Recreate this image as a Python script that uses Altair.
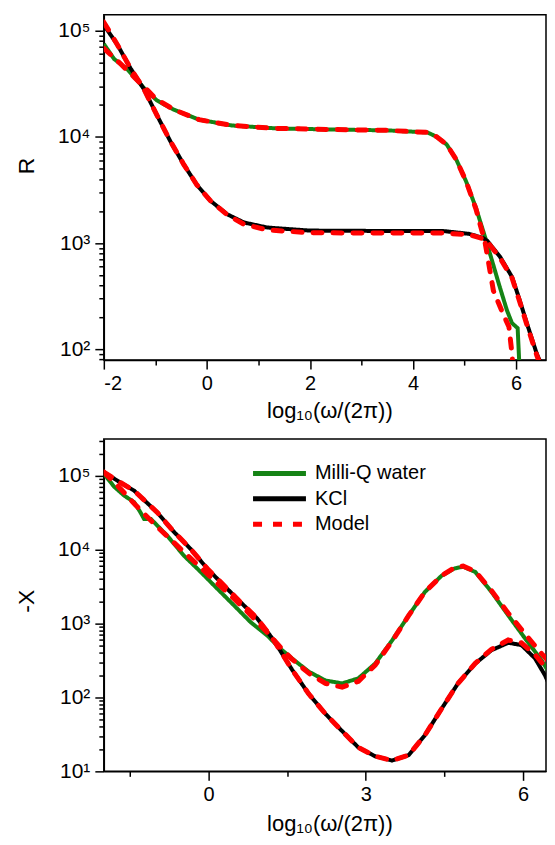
import altair as alt
import pandas as pd

FONT = "Liberation Sans"

# ---------------- top panel: R ----------------
r_water_x = [-2.0, -1.8, -1.54, -1.2, -0.97, -0.64, -0.15, 0.48, 1.35, 2.5, 3.5, 4.28, 4.46,
             4.65, 4.84, 5.03, 5.22, 5.42, 5.66, 5.82, 5.92, 6.03, 6.07]
r_water_y = [7.5e4, 5.4e4, 4.3e4, 2.8e4, 2.2e4, 1.8e4, 1.45e4, 1.28e4, 1.2e4, 1.17e4, 1.15e4, 1.1e4, 1.0e4,
             8.5e3, 6.1e3, 3.8e3, 2.15e3, 1.05e3, 420, 234, 176, 158, 60]

r_water_model_x = [-2.0, -1.7, -1.4, -1.2, -1.0, -0.64, -0.15, 0.48, 1.35, 2.5, 3.5, 4.28, 4.46,
                   4.65, 4.84, 5.03, 5.22, 5.4, 5.56, 5.73, 5.86, 5.92, 5.96]
r_water_model_y = [6.8e4, 5.0e4, 3.6e4, 2.9e4, 2.3e4, 1.8e4, 1.45e4, 1.28e4, 1.2e4, 1.17e4, 1.15e4, 1.1e4, 1.0e4,
                   8.5e3, 6.1e3, 3.8e3, 2.1e3, 1.0e3, 355, 225, 163, 91, 50]

r_kcl_x = [-2.0, -1.74, -1.48, -1.22, -0.97, -0.71, -0.45, -0.19, 0.07, 0.39, 0.72, 1.17, 1.99,
           3.28, 4.57, 5.09, 5.35, 5.44, 5.69, 5.92, 6.05, 6.21, 6.40, 6.5]
r_kcl_y = [1.13e5, 7.4e4, 4.4e4, 2.8e4, 1.6e4, 9.1e3, 5.5e3, 3.5e3, 2.5e3, 1.87e3, 1.56e3, 1.4e3, 1.31e3,
           1.3e3, 1.3e3, 1.22e3, 1.12e3, 1.05e3, 740, 480, 310, 175, 91, 70]
r_kcl_model_y = [1.2e5, 7.4e4, 4.4e4, 2.8e4, 1.6e4, 9.1e3, 5.5e3, 3.5e3, 2.5e3, 1.85e3, 1.5e3, 1.33e3, 1.25e3,
                 1.24e3, 1.24e3, 1.2e3, 1.1e3, 1.03e3, 720, 470, 300, 170, 88, 65]

# ---------------- bottom panel: -X ----------------
x_water_x = [-2.0, -1.8, -1.61, -1.42, -1.30, -1.23, -1.10, -0.79, -0.47, -0.15, 0.17, 0.48, 0.8, 1.12,
             1.37, 1.59, 1.91, 2.23, 2.55, 2.86, 3.18, 3.5, 3.82, 4.13, 4.45, 4.7, 4.86, 5.09, 5.4,
             5.72, 6.04, 6.36, 6.63]
x_water_y = [1.07e5, 7.1e4, 5.4e4, 4.4e4, 3.2e4, 2.6e4, 2.6e4, 1.55e4, 8.3e3, 5.0e3, 2.95e3, 1.78e3, 1.05e3, 690,
             457, 339, 224, 170, 155, 182, 288, 589, 1.29e3, 2.69e3, 4.47e3, 5.6e3, 5.9e3, 5.0e3, 2.69e3,
             1.29e3, 631, 316, 151]

x_water_model_x = [-2.0, -1.74, -1.39, -1.01, -0.53, 0.10, 0.48, 0.74, 1.12, 1.37, 1.59, 1.91, 2.23, 2.55,
                   2.86, 3.18, 3.5, 3.82, 4.13, 4.45, 4.7, 4.86, 5.09, 5.4, 5.72, 6.04, 6.36, 6.63]
x_water_model_y = [1.12e5, 7.4e4, 4.0e4, 2.14e4, 1.02e4, 3.9e3, 2.19e3, 1.45e3, 760, 479, 331, 214, 155, 138,
                   166, 275, 575, 1.29e3, 2.69e3, 4.47e3, 5.75e3, 6.0e3, 5.1e3, 2.8e3, 1.38e3, 724, 389, 240]

x_kcl_x = [-2.0, -1.68, -1.42, -1.23, -0.98, -0.66, -0.34, -0.02, 0.29, 0.61, 0.93, 1.24, 1.59, 1.91,
           2.23, 2.55, 2.86, 3.18, 3.5, 3.82, 4.13, 4.45, 4.76, 5.09, 5.4, 5.72, 5.97, 6.23, 6.42, 6.63]
x_kcl_y = [1.12e5, 8.1e4, 6.3e4, 4.7e4, 3.2e4, 1.74e4, 1.02e4, 5.5e3, 3.3e3, 1.95e3, 1.17e3, 600, 240, 112,
           60, 35, 21, 16, 14, 16.6, 31, 71, 155, 288, 437, 550, 513, 339, 200, 93]
x_kcl_model_y = [1.12e5, 8.1e4, 6.3e4, 4.7e4, 3.2e4, 1.74e4, 1.02e4, 5.5e3, 3.3e3, 1.95e3, 1.17e3, 600, 240, 112,
                 60, 35, 21, 16, 14, 16.6, 31, 71, 155, 290, 450, 600, 550, 380, 263, 178]

series_names = ["Milli-Q water", "KCl", "Model"]
series_colors = ["#158315", "#000000", "#ff0000"]
series_dash = [[1, 0], [1, 0], [9, 11]]

top_x_ticks = [-2, -1, 0, 1, 2, 3, 4, 5, 6]
bottom_x_ticks = [-1.5, 0, 1.5, 3, 4.5, 6]
top_y_ticks = [m * 10 ** k for k in range(1, 6) for m in range(1, 10) if 79 <= m * 10 ** k <= 1.41e5]
bottom_y_ticks = [m * 10 ** k for k in range(1, 6) for m in range(1, 10) if 10 <= m * 10 ** k <= 3.1e5]


def curve(xs, ys, series, cid):
    return pd.DataFrame({"f": xs, "v": ys, "series": series, "curve": cid})


top_meas = pd.concat([curve(r_water_x, r_water_y, "Milli-Q water", "w"),
                      curve(r_kcl_x, r_kcl_y, "KCl", "k")])
top_model = pd.concat([curve(r_water_model_x, r_water_model_y, "Model", "mw"),
                       curve(r_kcl_x, r_kcl_model_y, "Model", "mk")])
bot_meas = pd.concat([curve(x_water_x, x_water_y, "Milli-Q water", "w"),
                      curve(x_kcl_x, x_kcl_y, "KCl", "k")])
bot_model = pd.concat([curve(x_water_model_x, x_water_model_y, "Model", "mw"),
                       curve(x_kcl_x, x_kcl_model_y, "Model", "mk")])

LOGTEST = "abs(log(datum.value)/LN10 - round(log(datum.value)/LN10)) < 0.001"
SUPS = "['\u2070','\u00b9','\u00b2','\u00b3','\u2074','\u2075','\u2076']"

PW = 443


def panel(meas, model, xdom, ydom, xticks, xtest, yticks, ytitle, ytitle_y, xtitle_y, height, legend):
    x_axis = alt.Axis(values=xticks, labelExpr=f"({xtest}) ? datum.value + '' : ''",
                      tickSize={"condition": {"test": xtest, "value": 9}, "value": 5},
                      title="log\u2081\u2080(\u03c9/(2\u03c0))", titleX=226, titleY=xtitle_y,
                      titleBaseline="alphabetic", titleAlign="center",
                      labelFontSize=20, labelPadding=4, titleFontSize=22)
    y_axis = alt.Axis(values=yticks, labelExpr=f"({LOGTEST}) ? '10' + {SUPS}[round(log(datum.value)/LN10)] : ''",
                      tickSize={"condition": {"test": LOGTEST, "value": 9}, "value": 5},
                      title=ytitle, titleX=-70, titleY=ytitle_y, titleBaseline="alphabetic",
                      titleAlign="center", titleAngle=270,
                      labelFontSize=21, labelPadding=5, titleFontSize=23)
    enc = dict(
        x=alt.X("f:Q", scale=alt.Scale(domain=xdom, nice=False, zero=False), axis=x_axis),
        y=alt.Y("v:Q", scale=alt.Scale(type="log", domain=ydom, nice=False), axis=y_axis),
        color=alt.Color("series:N", scale=alt.Scale(domain=series_names, range=series_colors), legend=legend),
        strokeDash=alt.StrokeDash("series:N", scale=alt.Scale(domain=series_names, range=series_dash), legend=legend),
        detail="curve:N",
    )
    m1 = alt.Chart(meas).mark_line(strokeWidth=4, clip=True).encode(**enc)
    m2 = alt.Chart(model).mark_line(strokeWidth=5, strokeCap="round", clip=True).encode(**enc)
    return alt.layer(m1, m2).properties(width=PW, height=height)


# long horizontal stroke symbol: 53 px long at size 400 (unit r = 10)
legend = alt.Legend(orient="none", legendX=163.5, legendY=22, title=None, padding=0,
                    symbolType="M-2.65,0H2.65", symbolSize=400, symbolStrokeWidth=5,
                    labelFontSize=20, labelFont=FONT, labelColor="black", labelOffset=23,
                    rowPadding=2.5, labelLimit=0)

top = panel(top_meas, top_model, [-2, 6.58], [79, 1.41e5], top_x_ticks, "datum.value % 2 == 0",
            top_y_ticks, "R", 151, 57, 346, None)
bottom = panel(bot_meas, bot_model, [-2, 6.44], [10, 3.16e5], bottom_x_ticks, "datum.value % 3 == 0",
               bottom_y_ticks, "-X", 162, 59, 333, legend)

chart = alt.vconcat(top, bottom, spacing=16).resolve_scale(
    x="independent", y="independent"
).resolve_legend(color="independent", strokeDash="independent").properties(
    padding={"left": 7, "top": 5, "right": 0, "bottom": 0}
).configure(
    font=FONT,
).configure_view(
    stroke="black", strokeWidth=1.5
).configure_axis(
    grid=False, domainColor="black", domainWidth=1.5, tickColor="black", tickWidth=1.5,
    labelFont=FONT, titleFont=FONT, labelColor="black", titleColor="black",
    titleFontWeight="normal"
)

chart.save("out.html", embed_options={"renderer": "svg", "actions": False})
